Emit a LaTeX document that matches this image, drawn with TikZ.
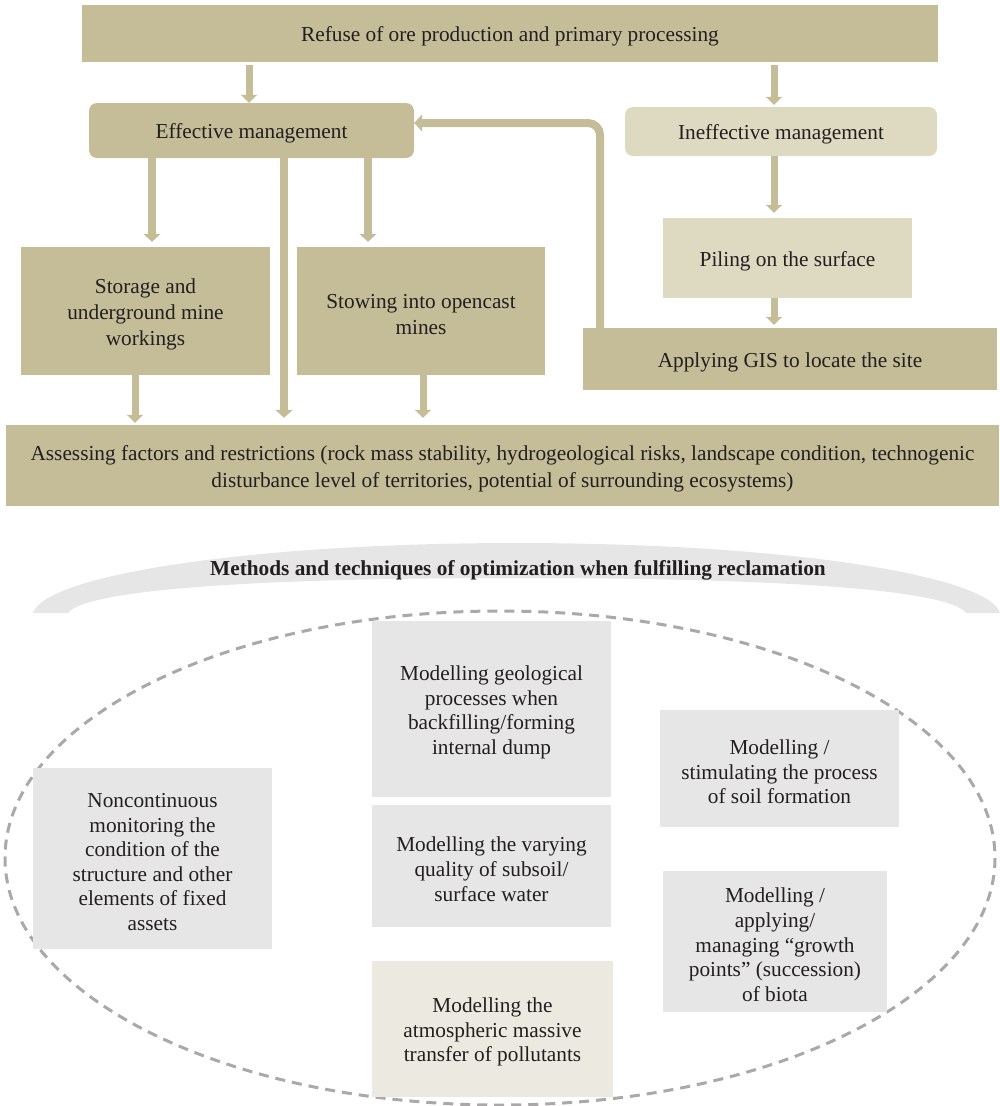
\documentclass[tikz,border=0pt]{standalone}
\usepackage{fontspec}
\setmainfont{Liberation Serif}
\usetikzlibrary{arrows.meta}
\definecolor{tanbox}{RGB}{197,188,152}
\definecolor{lighttan}{RGB}{222,218,194}
\definecolor{graybox}{RGB}{230,230,230}
\definecolor{creambox}{RGB}{236,233,224}
\definecolor{dashgray}{RGB}{170,168,168}
\definecolor{inktext}{RGB}{35,31,32}
\newcommand{\topstrut}{\rule{0pt}{21.3pt}}
\tikzset{
  basebox/.style={inner sep=0pt, align=center, text=inktext,
    font=\fontsize{21.3}{24.6}\selectfont},
  wide/.style={font=\fontsize{21.3}{26.3}\selectfont},
  tanrect/.style={basebox, fill=tanbox},
  tanround/.style={basebox, fill=tanbox, rounded corners=8pt},
  lightround/.style={basebox, fill=lighttan, rounded corners=8pt},
  lightrect/.style={basebox, fill=lighttan},
  grayrect/.style={basebox, fill=graybox},
  creamrect/.style={basebox, fill=creambox},
  flow/.style={draw=tanbox, line width=8pt, -{Triangle[width=17pt,length=8pt]}},
  thinflow/.style={draw=tanbox, line width=7pt, -{Triangle[width=16pt,length=8pt]}},
}
\begin{document}
\begin{tikzpicture}[x=1pt,y=-1pt]
\useasboundingbox (0,0) rectangle (1000,1106);

% top part
\node[tanrect, minimum width=856pt, minimum height=57pt] (refuse) at (510,33.5)
  {\topstrut Refuse of ore production and primary processing};
\node[tanround, minimum width=325pt, minimum height=55pt] (eff) at (251.5,130.5)
  {\topstrut Effective management};
\node[lightround, minimum width=312pt, minimum height=49pt] (ineff) at (781,131.5)
  {\topstrut Ineffective management};
\node[lightrect, minimum width=249pt, minimum height=80pt] (piling) at (787.5,258)
  {\topstrut Piling on the surface};
\node[tanrect, minimum width=414pt, minimum height=62pt] (gis) at (790,359)
  {\topstrut Applying GIS to locate the site};
\node[tanrect, wide, minimum width=249pt, minimum height=128pt] (storage) at (145.5,311)
  {\topstrut Storage and\\underground mine\\workings};
\node[tanrect, wide, minimum width=248pt, minimum height=128pt] (stowing) at (421,311)
  {\topstrut Stowing into opencast\\mines};
\node[tanrect, wide, minimum width=993pt, minimum height=81pt] (assess) at (502.5,465.5)
  {\topstrut Assessing factors and restrictions (rock mass stability, hydrogeological risks, landscape condition, technogenic\\disturbance level of territories, potential of surrounding ecosystems)};

% x positions of connectors
\coordinate (xa) at (249,0);
\coordinate (xb) at (774,0);
\coordinate (xc) at (152,0);
\coordinate (xd) at (284,0);
\coordinate (xe) at (368,0);
\coordinate (xg) at (135,0);
\coordinate (xh) at (423,0);
\coordinate (fb) at (600,123);

\draw[thinflow] ([yshift=-3pt]refuse.south -| xa) -- (eff.north -| xa);
\draw[thinflow] ([yshift=-3pt]refuse.south -| xb) -- ([yshift=2pt]ineff.north -| xb);
\draw[thinflow] (ineff.south -| xb) -- ([yshift=5pt]piling.north -| xb);
\draw[thinflow] (piling.south -| xb) -- ([yshift=3pt]gis.north -| xb);
\draw[flow] (eff.south -| xc) -- ([yshift=5pt]storage.north -| xc);
\draw[flow] (eff.south -| xe) -- ([yshift=5pt]stowing.north -| xe);
\draw[flow] (eff.south -| xd) -- ([yshift=7pt]assess.north -| xd);
\draw[thinflow] (storage.south -| xg) -- ([yshift=2pt]assess.north -| xg);
\draw[thinflow] (stowing.south -| xh) -- ([yshift=7pt]assess.north -| xh);
\draw[flow, rounded corners=12pt] (gis.north -| fb) -- (fb) -- (eff.east |- fb);

% crescent banner
\fill[graybox] (33,613) .. controls (45,575) and (250,543) .. (517,543)
  .. controls (784,543) and (988,575) .. (1000,613)
  -- (966,613) .. controls (950,590) and (784,578) .. (517,578)
  .. controls (250,578) and (85,590) .. (68,613) -- cycle;
\node[basebox, font=\fontsize{21.3}{24.6}\selectfont\bfseries] (title) at (518,567)
  {\topstrut Methods and techniques of optimization when fulfilling reclamation};

% dashed ellipse
\draw[dashgray, line width=3pt, dash pattern=on 10pt off 7pt] (500,858) ellipse [x radius=495, y radius=247];

% bottom boxes
\node[grayrect, minimum width=239pt, minimum height=176pt] (geo) at (491.5,709)
  {\topstrut Modelling geological\\processes when\\backfilling/forming\\internal dump};
\node[grayrect, minimum width=239pt, minimum height=122pt] (water) at (491.5,866)
  {\topstrut Modelling the varying\\quality of subsoil/\\surface water};
\node[creamrect, minimum width=241pt, minimum height=136pt] (atmo) at (492.5,1029)
  {\topstrut Modelling the\\atmospheric massive\\transfer of pollutants};
\node[grayrect, minimum width=239pt, minimum height=181pt] (noncont) at (152.5,858.5)
  {\topstrut Noncontinuous\\monitoring the\\condition of the\\structure and other\\elements of fixed\\assets};
\node[grayrect, minimum width=239pt, minimum height=117pt] (soil) at (779.5,768.5)
  {\topstrut Modelling /\\stimulating the process\\of soil formation};
\node[grayrect, minimum width=224pt, minimum height=141pt] (biota) at (775,941.5)
  {\topstrut Modelling /\\applying/\\managing “growth\\points” (succession)\\of biota};
\end{tikzpicture}
\end{document}
